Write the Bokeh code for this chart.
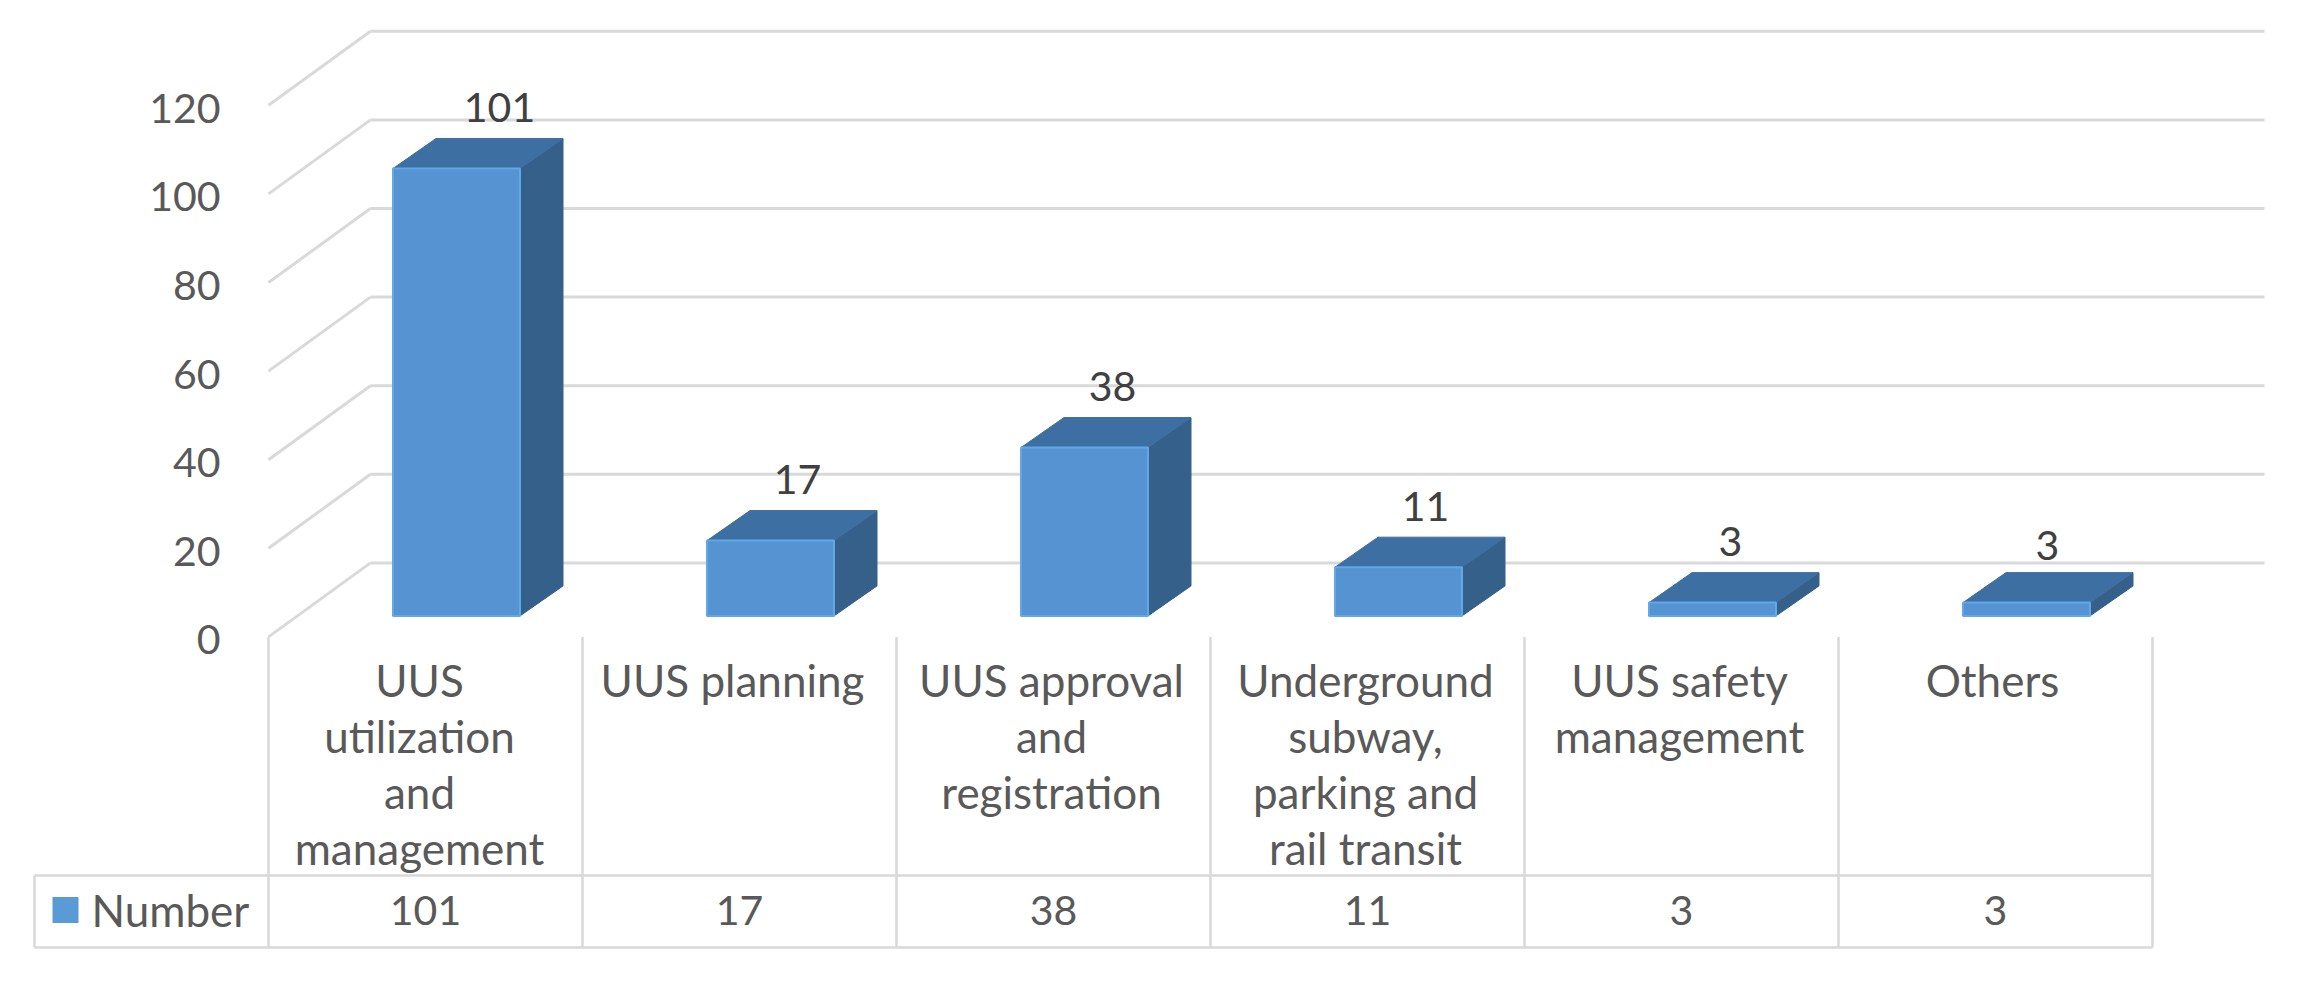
from bokeh.plotting import figure
from bokeh.models import LinearAxis, FixedTicker, Range1d
from bokeh.core.properties import value
from bokeh.embed import file_html
from bokeh.resources import INLINE

# ---- chart values -------------------------------------------------------
category_lines = [
    ["UUS", "utilization", "and", "management"],
    ["UUS planning"],
    ["UUS approval", "and", "registration"],
    ["Underground", "subway,", "parking and", "rail transit"],
    ["UUS safety", "management"],
    ["Others"],
]
numbers = [101, 17, 38, 11, 3, 3]
series_name = "Number"
y_ticks = [0, 20, 40, 60, 80, 100, 120]

# ---- layout (pixel -> data conversions) ----------------------------------
W, H = 2284, 970
PAGE = 8
X0_PX, CAT_PX = 276.0, 314.0     # front-left corner, width of a category
Y0_PX, VAL_PX = 644.4, 4.43      # front floor, px per value unit
FONT = value("Lato")
GRID = "#D9D9D9"
TXT = "#595959"

def dx(px): return px / CAT_PX
def dy(px): return px / VAL_PX

x_range = Range1d((PAGE - X0_PX) / CAT_PX, (PAGE + W - X0_PX) / CAT_PX)
y_range = Range1d((Y0_PX - PAGE - H) / VAL_PX, (Y0_PX - PAGE) / VAL_PX)

p = figure(width=W, height=H, x_range=x_range, y_range=y_range,
           output_backend="svg", toolbar_location=None,
           x_axis_type=None, y_axis_type=None, min_border=0,
           outline_line_color=None, background_fill_color="white")
p.xgrid.visible = False
p.ygrid.visible = False

# ---- walls ---------------------------------------------------------------
WALL_X = dx(102)       # depth of the floor
WALL_Y = dy(74)
RIGHT = dx(2272 - X0_PX)
p.segment([0] * 7, y_ticks, [WALL_X] * 7, [t + WALL_Y for t in y_ticks],
          line_color=GRID, line_width=3)
p.segment([WALL_X] * 7, [t + WALL_Y for t in y_ticks], [RIGHT] * 7,
          [t + WALL_Y for t in y_ticks], line_color=GRID, line_width=3)

# ---- y axis (its own range, nudged so the labels sit slightly below the wall ticks) --
LABEL_NUDGE = dy(3)
p.extra_y_ranges = {"labels": Range1d(y_range.start + LABEL_NUDGE, y_range.end + LABEL_NUDGE)}
axis = LinearAxis(y_range_name="labels", ticker=FixedTicker(ticks=y_ticks), fixed_location=0,
                  axis_line_color=None, major_tick_line_color=None,
                  minor_tick_line_color=None, major_label_standoff=42,
                  major_label_text_font="Lato", major_label_text_font_size="41px",
                  major_label_text_color=TXT)
p.add_layout(axis, "left")

# ---- 3-D bars ------------------------------------------------------------
BAR_W = dx(127)
BAR_DX = dx(43)
BAR_DY = dy(30)
BASE = dy(21)
LEFT_OFF = dx(124.5)

idx = list(range(len(numbers)))
left = [i + LEFT_OFF for i in idx]
right = [l + BAR_W for l in left]
tops = [BASE + v for v in numbers]

p.patches([[l + BAR_W, l + BAR_W + BAR_DX, l + BAR_W + BAR_DX, l + BAR_W] for l in left],
          [[BASE, BASE + BAR_DY, t + BAR_DY, t] for t in tops],
          fill_color="#35608A", line_color="#35608A", line_width=1)
p.patches([[l, l + BAR_DX, l + BAR_W + BAR_DX, l + BAR_W] for l in left],
          [[t, t + BAR_DY, t + BAR_DY, t] for t in tops],
          fill_color="#3D6FA3", line_color="#3D6FA3", line_width=1)
p.quad(left=left, right=right, bottom=[BASE] * len(numbers), top=tops,
       fill_color="#5593D3", line_color="#62A8E6", line_width=2)

# data labels
label_dx = [43, 27, 28, 27, 18, 21]
label_dy = [31, 31, 31, 31, 31, 27]
p.text([l + BAR_W / 2 + dx(o) for l, o in zip(left, label_dx)],
       [t + BAR_DY + dy(o) for t, o in zip(tops, label_dy)],
       text=[str(v) for v in numbers], text_align="center", text_baseline="middle",
       text_font=FONT, text_font_size="41px", text_color="#404040")

# ---- data table ----------------------------------------------------------
n = len(numbers)
TABLE_L = dx(42 - X0_PX)
ROW_T = -dy(883 - Y0_PX)
ROW_B = -dy(955 - Y0_PX)
CAT_T = 0
p.segment(list(range(n + 1)), [CAT_T] * (n + 1), list(range(n + 1)), [ROW_B] * (n + 1),
          line_color=GRID, line_width=2.5)
p.segment([TABLE_L, TABLE_L], [ROW_T, ROW_B], [n, n], [ROW_T, ROW_B],
          line_color=GRID, line_width=2.5)
p.segment([TABLE_L], [ROW_T], [TABLE_L], [ROW_B], line_color=GRID, line_width=2.5)

LINE_PX = 56
FIRST_PX = 687
cat_nudge = [-6, -7, -2, -2, -2, -3]
xs, ys, txt = [], [], []
for i, lines in enumerate(category_lines):
    for j, s in enumerate(lines):
        xs.append(i + 0.5 + dx(cat_nudge[i]))
        ys.append(-dy(FIRST_PX + j * LINE_PX - Y0_PX))
        txt.append(s)
p.text(xs, ys, text=txt, text_align="center", text_baseline="middle",
       text_font=FONT, text_font_size="44px", text_color=TXT)

ROW_MID = (ROW_T + ROW_B) / 2 + dy(1.5)
p.text([i + 0.5 for i in idx], [ROW_MID] * n, text=[str(v) for v in numbers],
       text_align="center", text_baseline="middle",
       text_font=FONT, text_font_size="41px", text_color=TXT)

# legend key inside the table
p.quad(left=[dx(60 - X0_PX)], right=[dx(86 - X0_PX)],
       bottom=[ROW_MID - dy(13)], top=[ROW_MID + dy(13)],
       fill_color="#5B9BD5", line_color=None)
p.text([dx(99 - X0_PX)], [ROW_MID], text=[series_name], text_align="left",
       text_baseline="middle", text_font=FONT, text_font_size="44px", text_color=TXT)

open("out.html", "w").write(file_html(p, INLINE))
